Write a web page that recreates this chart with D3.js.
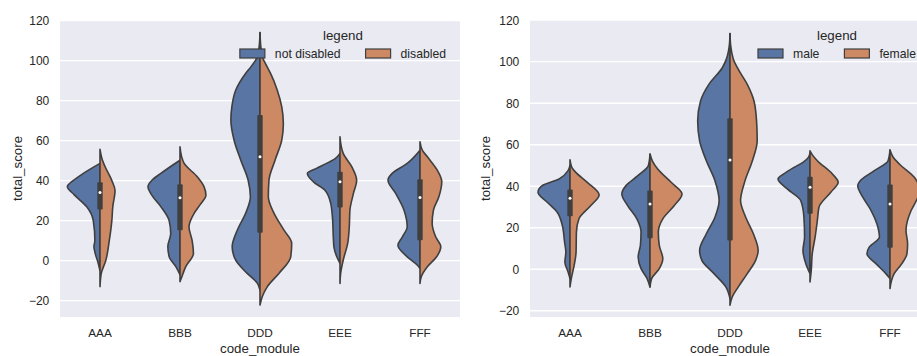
<!DOCTYPE html>
<html lang="en">
<head>
<meta charset="utf-8">
<title>total_score by code_module</title>
<script src="https://cdn.jsdelivr.net/npm/d3@7"></script>
<style>
  body { margin: 0; background: #fff; }
  text { font-family: "Liberation Sans", Arial, Helvetica, sans-serif; fill: #262626; }
</style>
</head>
<body>
<script>
var modules = ["AAA", "BBB", "DDD", "EEE", "FFF"];
var yTicks = [-20, 0, 20, 40, 60, 80, 100, 120];
var disabilityLabels = ["not disabled", "disabled"];
var genderLabels = ["male", "female"];

// half violin outlines: [total_score, relative density]
var notDisabled = [
  [[48.6,0],[43.6,0.52],[40,0.84],[36.9,1.02],[33,0.81],[27,0.42],[20,0.21],[10,0.16],[7,0.19],[3,0.14],[0,0.08],[-5,0]],
  [[50.2,0],[43.6,0.6],[40.3,0.87],[36.9,1],[32,0.85],[27,0.6],[20,0.34],[13.6,0.29],[7,0.38],[2,0.34],[-3,0.13],[-7,0]],
  [[114,0],[108,0.02],[102,0.08],[97,0.28],[93.6,0.45],[85.2,0.76],[76.9,0.88],[70.2,0.91],[60.2,0.81],[50.2,0.6],[40.2,0.37],[31.9,0.3],[23.6,0.45],[15.2,0.71],[6.9,0.87],[0.2,0.76],[-6.4,0.4],[-11.4,0.08],[-14.7,0]],
  [[53.6,0],[51,0.15],[48.6,0.42],[46,0.75],[43.6,1.02],[39.4,0.83],[35.2,0.47],[28.6,0.29],[20.2,0.23],[11.9,0.21],[6.9,0.19],[1.9,0.1],[-1.4,0]],
  [[55.2,0],[48.6,0.4],[43.6,0.87],[40.2,1],[33.6,0.76],[25.2,0.5],[16.9,0.4],[11.9,0.55],[7.7,0.69],[1.9,0.4],[-2.3,0.08],[-4,0]]
];
var disabled = [
  [[55.6,0],[50,0.08],[46.9,0.16],[40,0.37],[35,0.47],[27,0.4],[20,0.37],[10,0.29],[0,0.18],[-6.4,0.04],[-13,0]],
  [[56.9,0],[52,0.05],[48.6,0.13],[41.9,0.54],[37,0.75],[32.7,0.81],[28,0.63],[23.6,0.44],[16.9,0.28],[10,0.38],[3.6,0.42],[-3,0.18],[-9.7,0.02],[-10.5,0]],
  [[114,0],[108,0.02],[102,0.07],[97,0.22],[93.6,0.33],[85.2,0.54],[76.9,0.68],[68.6,0.73],[60.2,0.68],[50.2,0.47],[40.2,0.28],[31.9,0.26],[23.6,0.44],[15.2,0.75],[8.6,0.99],[1.9,0.96],[-6.4,0.59],[-13,0.23],[-18.1,0.07],[-22.2,0]],
  [[61.9,0],[57,0.04],[53.6,0.1],[46.9,0.37],[40.2,0.52],[33.6,0.42],[25.2,0.31],[16.9,0.29],[8.6,0.24],[0.2,0.1],[-6.4,0.02],[-11.4,0]],
  [[59.4,0],[55,0.08],[51.9,0.23],[45.2,0.54],[39.4,0.68],[31.9,0.59],[25.2,0.42],[18.6,0.38],[11.9,0.49],[6.9,0.65],[1.9,0.52],[-3.1,0.23],[-8.1,0.04],[-11.4,0]]
];
var male = [
  [[50,0],[47.5,0.06],[43.5,0.34],[40.3,0.87],[37.1,1],[32.3,0.71],[27.5,0.4],[21.1,0.24],[13.1,0.17],[8.3,0.13],[3.5,0.16],[-1.3,0.06],[-4.5,0]],
  [[55.5,0],[50,0.05],[45.1,0.38],[40.3,0.75],[36.3,0.88],[30.7,0.7],[24.3,0.41],[17.9,0.28],[11.5,0.3],[5.9,0.37],[0.3,0.28],[-4.5,0.09],[-8.5,0]],
  [[113.6,0],[108,0.02],[105,0.05],[101,0.12],[97.1,0.24],[89.1,0.66],[81.1,0.92],[71.5,1.01],[61.9,0.95],[52.3,0.74],[42.7,0.47],[33.1,0.34],[25.1,0.47],[17.1,0.74],[9.1,0.95],[4.3,0.88],[-2.1,0.5],[-8.5,0.13],[-14.1,0]],
  [[56,0],[53.9,0.05],[51.5,0.22],[49.1,0.5],[46,0.82],[43.5,1],[38.7,0.71],[33.1,0.29],[25.1,0.19],[15.5,0.17],[9.1,0.22],[2.7,0.13],[-2.1,0]],
  [[57.5,0],[52.3,0.06],[47.5,0.49],[42.7,0.93],[40.3,1.01],[34.7,0.85],[28.3,0.59],[21.9,0.41],[15.5,0.33],[10.7,0.65],[7.5,0.72],[2.7,0.44],[-2.1,0.13],[-4.5,0]]
];
var female = [
  [[52.8,0],[49,0.06],[46.7,0.18],[41.9,0.54],[35.8,0.91],[30.7,0.65],[24.3,0.28],[17.9,0.2],[8.3,0.19],[1.9,0.13],[-4.5,0.04],[-8.5,0]],
  [[55.5,0],[52,0.08],[48.3,0.24],[41.9,0.66],[36.3,1],[30.7,0.76],[24.3,0.4],[17.9,0.26],[11.5,0.29],[5.1,0.4],[0.3,0.29],[-4.5,0.05],[-8.5,0]],
  [[113.6,0],[108,0.02],[104,0.06],[101,0.11],[97.1,0.23],[89.1,0.54],[81.1,0.75],[71.5,0.83],[61.9,0.85],[52.3,0.7],[42.7,0.47],[33.1,0.33],[25.1,0.49],[17.1,0.73],[9.1,0.88],[4.3,0.8],[-2.1,0.54],[-8.5,0.26],[-13.3,0.07],[-17.3,0]],
  [[57.1,0],[55,0.08],[52.3,0.23],[45.9,0.7],[41.9,0.88],[37.1,0.65],[29.9,0.28],[23.5,0.23],[15.5,0.16],[7.5,0.07],[-0.5,0.04],[-6.1,0]],
  [[57.5,0],[54,0.1],[50.7,0.29],[44.3,0.76],[38,0.94],[33,0.82],[28.3,0.66],[18.7,0.5],[12.3,0.55],[7.5,0.53],[2.7,0.37],[-2.1,0.13],[-5.3,0.05],[-9.3,0]]
];

// inner box: [q1, median, q3]
var disabilityBoxes = [[25.6,34.1,39.2],[15.2,31.4,38.2],[13.9,51.9,72.8],[26.6,39.4,44.4],[10.2,31.6,40.7]];
var genderBoxes = [[25.6,34.2,38.4],[15,31.5,37.9],[13.9,52.7,72.8],[26.7,39.5,44.6],[10.4,31.5,40.8]];

var colors = ["#5875a4", "#cc8963"];
var lineColor = "#3f3f3f";

var svg = d3.select("body").append("svg")
  .attr("width", 917)
  .attr("height", 356);

svg.append("rect").attr("width", 917).attr("height", 356).attr("fill", "#fff");

function drawPanel(opt) {
  var top = 20, h = 297, w = 400;
  var g = svg.append("g");

  var x = d3.scaleBand().domain(modules).range([opt.left, opt.left + w]);
  var y = d3.scaleLinear().domain(opt.yDomain).range([top + h, top]);
  var dens = d3.scaleLinear().domain([0, 1]).range([0, x.bandwidth() * 0.4]);

  g.append("rect")
    .attr("x", opt.left).attr("y", top)
    .attr("width", w).attr("height", h)
    .attr("fill", "#eaeaf2");

  g.selectAll(".grid")
    .data(yTicks)
    .enter().append("line")
    .attr("x1", opt.left).attr("x2", opt.left + w)
    .attr("y1", function(d) { return y(d); })
    .attr("y2", function(d) { return y(d); })
    .attr("stroke", "#fff")
    .attr("stroke-width", 1.3);

  g.selectAll(".ytick")
    .data(yTicks)
    .enter().append("text")
    .attr("x", opt.left - 10.7)
    .attr("y", function(d) { return y(d); })
    .attr("dy", "0.36em")
    .attr("text-anchor", "end")
    .attr("font-size", "12px")
    .text(function(d) { return d < 0 ? "\u2212" + (-d) : d; });

  g.selectAll(".xtick")
    .data(modules)
    .enter().append("text")
    .attr("x", function(d) { return x(d) + x.bandwidth() / 2; })
    .attr("y", 336.8)
    .attr("text-anchor", "middle")
    .attr("font-size", "11.8px")
    .text(function(d) { return d; });

  g.append("text")
    .attr("x", opt.left + w / 2)
    .attr("y", 352.5)
    .attr("text-anchor", "middle")
    .attr("font-size", "13.3px")
    .text("code_module");

  g.append("text")
    .attr("transform", "translate(" + opt.ylabelX + "," + (top + h / 2) + ")rotate(-90)")
    .attr("text-anchor", "middle")
    .attr("font-size", "13.3px")
    .text("total_score");

  // the two halves of every violin
  opt.halves.forEach(function(series, k) {
    var side = k === 0 ? -1 : 1;
    g.selectAll(".half" + k)
      .data(series)
      .enter().append("path")
      .attr("d", function(d, i) {
        var cx = x(modules[i]) + x.bandwidth() / 2;
        return d3.area()
          .curve(d3.curveMonotoneY)
          .y(function(p) { return y(p[0]); })
          .x0(cx)
          .x1(function(p) { return cx + side * dens(p[1]); })(d);
      })
      .attr("fill", colors[k])
      .attr("stroke", lineColor)
      .attr("stroke-width", 1.6)
      .attr("stroke-linejoin", "round");
  });

  g.selectAll(".box")
    .data(opt.boxes)
    .enter().append("rect")
    .attr("x", function(d, i) { return x(modules[i]) + x.bandwidth() / 2 - 2.7; })
    .attr("y", function(d) { return y(d[2]); })
    .attr("width", 5.4)
    .attr("height", function(d) { return y(d[0]) - y(d[2]); })
    .attr("rx", 1)
    .attr("fill", lineColor);

  g.selectAll(".median")
    .data(opt.boxes)
    .enter().append("circle")
    .attr("cx", function(d, i) { return x(modules[i]) + x.bandwidth() / 2; })
    .attr("cy", function(d) { return y(d[1]); })
    .attr("r", 1.5)
    .attr("fill", "#fff");

  // legend, anchored to the upper right of the plot
  var leg = g.append("g");
  var texts = [];
  opt.labels.forEach(function(lab) {
    texts.push(leg.append("text").attr("font-size", "12.2px").attr("y", 57.5).text(lab));
  });
  var widths = texts.map(function(t) { return t.node().getComputedTextLength(); });
  var patchW = 25, pad = 10, colGap = 25;
  var total = patchW + pad + widths[0] + colGap + patchW + pad + widths[1];
  var start = opt.left + w - 14 - total;
  var px = [start, start + patchW + pad + widths[0] + colGap];
  px.forEach(function(p, k) {
    leg.append("rect")
      .attr("x", p).attr("y", 49)
      .attr("width", patchW).attr("height", 9)
      .attr("fill", colors[k])
      .attr("stroke", lineColor)
      .attr("stroke-width", 1.2);
    texts[k].attr("x", p + patchW + pad);
  });
  leg.append("text")
    .attr("x", start + total / 2)
    .attr("y", 40)
    .attr("text-anchor", "middle")
    .attr("font-size", "13.3px")
    .text("legend");
}

drawPanel({
  left: 60, ylabelX: 21.5, yDomain: [-28.2, 120.3],
  halves: [notDisabled, disabled], boxes: disabilityBoxes, labels: disabilityLabels
});
drawPanel({
  left: 530, ylabelX: 489.5, yDomain: [-23, 120.1],
  halves: [male, female], boxes: genderBoxes, labels: genderLabels
});
</script>
</body>
</html>
